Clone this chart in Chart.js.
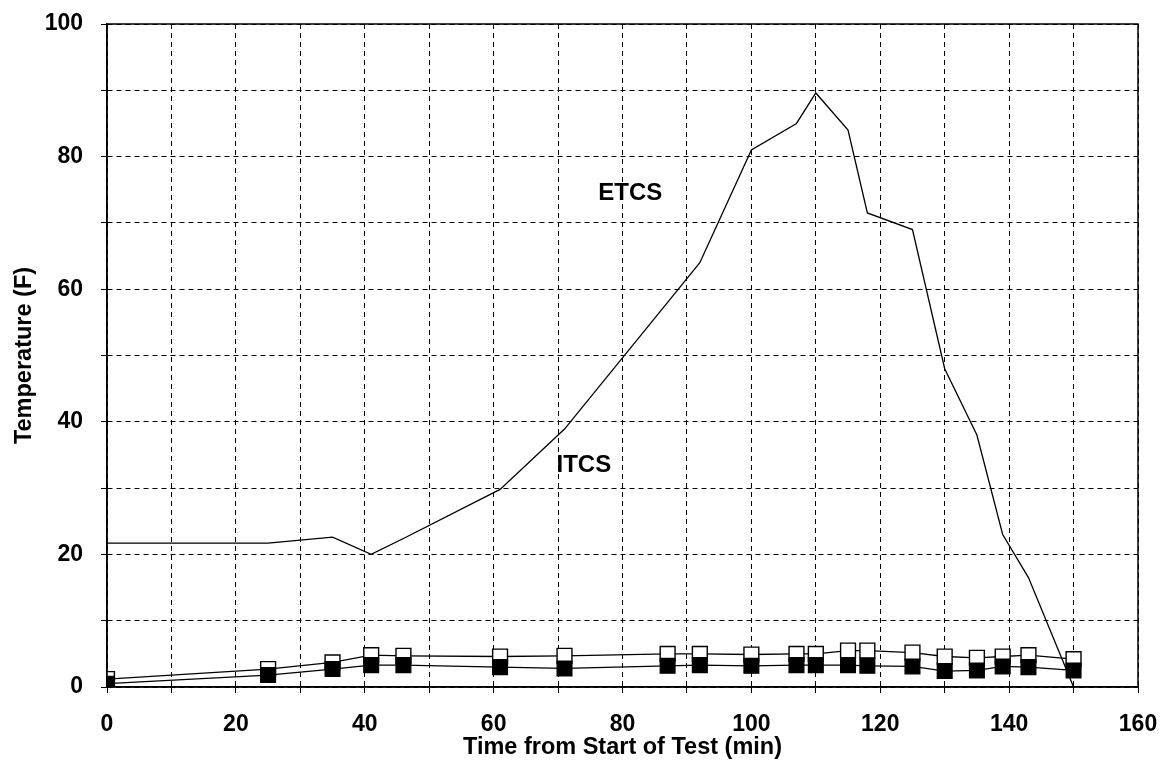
<!DOCTYPE html>
<html>
<head>
<meta charset="utf-8">
<script src="https://cdn.jsdelivr.net/npm/chart.js@4/dist/chart.umd.min.js"></script>
<style>
html,body{margin:0;padding:0;background:#fff;}
#wrap{width:1166px;height:768px;position:relative;}
</style>
</head>
<body>
<div id="wrap"><canvas id="c" width="1166" height="768"></canvas></div>
<script>
// Data
const times = [0, 25, 35, 41, 46, 61, 71, 87, 92, 100, 107, 110, 115, 118, 125, 130, 135, 139, 143, 150];
const etcs  = [21.7, 21.7, 22.6, 20.0, 22.4, 29.8, 38.9, 58.0, 64.0, 81.0, 85.0, 89.6, 84.0, 71.5, 69.0, 48.0, 38.0, 23.0, 16.5, 0];
const itcsOpen   = [1.2, 2.7, 3.7, 4.8, 4.7, 4.6, 4.7, 5.0, 5.0, 4.9, 5.0, 5.0, 5.5, 5.5, 5.2, 4.6, 4.4, 4.6, 4.8, 4.2];
const itcsFilled = [0.5, 1.8, 2.7, 3.3, 3.3, 3.0, 2.8, 3.2, 3.3, 3.2, 3.3, 3.3, 3.3, 3.2, 3.1, 2.4, 2.5, 3.1, 3.0, 2.5];
const xTicks = [0, 20, 40, 60, 80, 100, 120, 140, 160];
const yTicks = [0, 20, 40, 60, 80, 100];
const labels = [
  {text: 'ETCS', x: 81.2, y: 74.5},
  {text: 'ITCS', x: 74.0, y: 33.5}
];

const FONT = "'Liberation Sans', Arial, sans-serif";
const pts = (ys) => times.map((t, i) => ({x: t, y: ys[i]}));

const frame = {
  id: 'frame',
  afterDatasetsDraw(chart) {
    const {ctx, chartArea: a, scales} = chart;
    ctx.save();
    ctx.strokeStyle = '#000';
    ctx.lineWidth = 1.5;
    ctx.strokeRect(a.left, a.top, a.right - a.left, a.bottom - a.top);
    ctx.fillStyle = '#000';
    ctx.font = 'bold 24px ' + FONT;
    ctx.textAlign = 'center';
    ctx.textBaseline = 'middle';
    labels.forEach(l => {
      ctx.fillText(l.text, scales.x.getPixelForValue(l.x), scales.y.getPixelForValue(l.y));
    });
    ctx.restore();
  }
};

new Chart(document.getElementById('c'), {
  type: 'line',
  data: {
    datasets: [
      {
        label: 'ITCS (filled)',
        data: pts(itcsFilled),
        borderColor: '#000', borderWidth: 1.3,
        pointStyle: 'rect', pointRadius: 10.5, pointBorderWidth: 1.2,
        pointBackgroundColor: '#000', pointBorderColor: '#000',
        tension: 0
      },
      {
        label: 'ITCS (open)',
        data: pts(itcsOpen),
        borderColor: '#000', borderWidth: 1.3,
        pointStyle: 'rect', pointRadius: 10.5, pointBorderWidth: 1.4,
        pointBackgroundColor: '#fff', pointBorderColor: '#000',
        tension: 0
      },
      {
        label: 'ETCS',
        data: pts(etcs),
        borderColor: '#000', borderWidth: 1.3,
        pointRadius: 0,
        tension: 0
      }
    ]
  },
  options: {
    responsive: false,
    animation: false,
    layout: {padding: {left: 0, right: 28, top: 24, bottom: 0}},
    plugins: {legend: {display: false}, tooltip: {enabled: false}},
    scales: {
      x: {
        type: 'linear', min: 0, max: 160,
        afterFit: s => { s.height = 81; s.paddingRight = 0; s.paddingLeft = 0; },
        ticks: {
          stepSize: 10, autoSkip: false, maxRotation: 0, padding: 18,
          color: '#000', font: {family: FONT, size: 23, weight: 'bold'},
          callback: v => xTicks.includes(v) ? String(v) : ''
        },
        grid: {color: '#000', lineWidth: 1, tickLength: 6, drawTicks: true},
        border: {display: true, color: '#000', width: 1.5, dash: [5, 4]},
        title: {display: true, text: 'Time from Start of Test (min)', color: '#000',
                font: {family: FONT, size: 23.5, weight: 'bold'}, padding: {top: 0, bottom: 6}}
      },
      y: {
        min: 0, max: 100,
        afterFit: s => { s.width = 107; s.paddingTop = 0; s.paddingBottom = 0; },
        ticks: {
          stepSize: 10, autoSkip: false, padding: 18,
          color: '#000', font: {family: FONT, size: 23, weight: 'bold'},
          callback: v => yTicks.includes(v) ? String(v) : ''
        },
        grid: {color: '#000', lineWidth: 1, tickLength: 6, drawTicks: true},
        border: {display: true, color: '#000', width: 1.5, dash: [5, 4]},
        title: {display: true, text: 'Temperature (F)', color: '#000',
                font: {family: FONT, size: 23.5, weight: 'bold'}, padding: {top: 10, bottom: 0}}
      }
    }
  },
  plugins: [frame]
});
</script>
</body>
</html>
